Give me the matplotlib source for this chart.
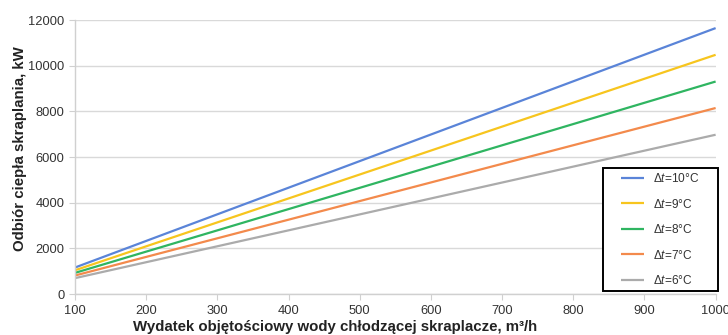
import matplotlib
matplotlib.use("Agg")
import matplotlib.pyplot as plt
from matplotlib.patches import Rectangle

plt.rcParams['font.family'] = ['Liberation Sans', 'DejaVu Sans']
plt.rcParams['mathtext.fontset'] = 'custom'
plt.rcParams['mathtext.rm'] = 'Liberation Sans'
plt.rcParams['mathtext.it'] = 'Liberation Sans:italic'

# Flow rate (m3/h) at the two ends of each line
flow = [100, 1000]

# Condensation heat (kW) for each temperature difference
q_dt10 = [1165, 11650]
q_dt9 = [1045, 10480]
q_dt8 = [930, 9310]
q_dt7 = [815, 8150]
q_dt6 = [700, 6980]

labels = ["Δ$t$=10°C", "Δ$t$=9°C", "Δ$t$=8°C", "Δ$t$=7°C", "Δ$t$=6°C"]
colors = ["#5a84d8", "#f7c51e", "#2fb561", "#f38a4c", "#ababab"]
series = [q_dt10, q_dt9, q_dt8, q_dt7, q_dt6]

xticks = [100, 200, 300, 400, 500, 600, 700, 800, 900, 1000]
yticks = [0, 2000, 4000, 6000, 8000, 10000, 12000]

fig = plt.figure(figsize=(7.28, 3.35), dpi=100)
ax = fig.add_axes([0.103, 0.122, 0.880, 0.818])

for y, c, lab in zip(series, colors, labels):
    ax.plot(flow, y, color=c, lw=1.6, label=lab, solid_capstyle='butt')

ax.set_xlim(100, 1000)
ax.set_ylim(0, 12000)
ax.set_xticks(xticks)
ax.set_yticks(yticks)
ax.grid(axis='y', color='#d9d9d9', lw=1.0)
ax.set_axisbelow(True)

for s in ['top', 'right']:
    ax.spines[s].set_visible(False)
for s in ['left', 'bottom']:
    ax.spines[s].set_color('#d0d0d0')
    ax.spines[s].set_linewidth(1.0)

ax.tick_params(axis='both', colors='#d0d0d0', labelcolor='#333333', labelsize=9.3, length=4)

ax.set_xlabel("Wydatek objętościowy wody chłodzącej skraplacze, m³/h",
              fontsize=10.8, fontweight='bold', color='#222222')
ax.xaxis.set_label_coords(0.406, -0.12)
ax.xaxis.label.set_verticalalignment('center')
ax.set_ylabel("Odbiór ciepła skraplania, kW", fontsize=10.8, fontweight='bold',
              color='#222222')
ax.yaxis.set_label_coords(-0.086, 0.53)
ax.yaxis.label.set_verticalalignment('center')

# Legend box with wider side padding
box = Rectangle((0.824, 0.011), 0.179, 0.449, transform=ax.transAxes,
                facecolor='white', edgecolor='black', lw=1.4, clip_on=False, zorder=4)
ax.add_patch(box)
leg = ax.legend(loc='center', bbox_to_anchor=(0.9135, 0.2355), frameon=False,
                fontsize=8.6, handlelength=1.95, handletextpad=0.75,
                labelspacing=1.05, borderpad=0, borderaxespad=0)
leg.set_zorder(5)
for t in leg.get_texts():
    t.set_color('#333333')

fig.savefig("out.png", dpi=100)
